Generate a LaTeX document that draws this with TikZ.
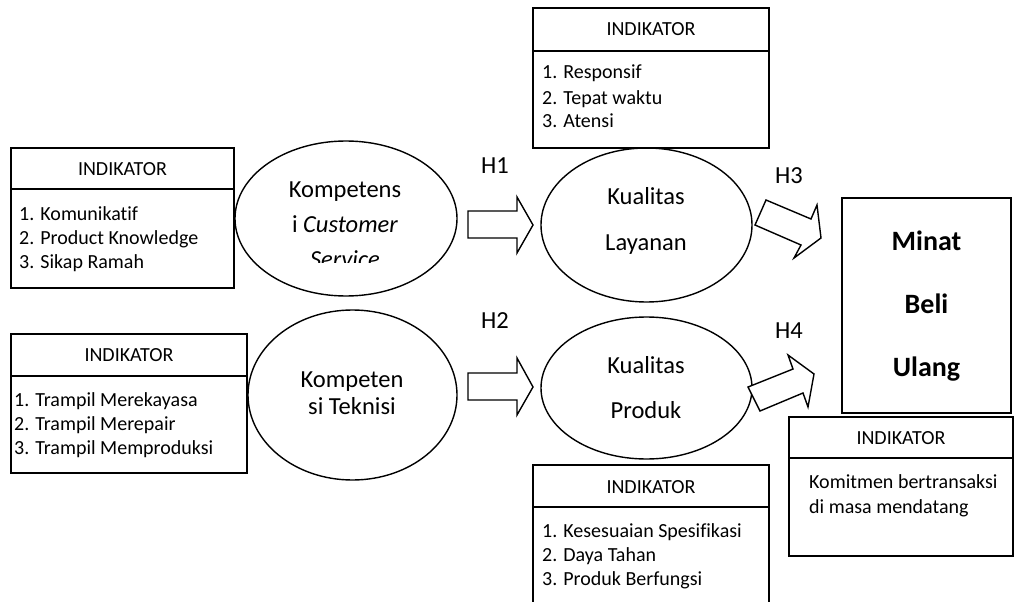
\documentclass[tikz,border=0pt]{standalone}
\usepackage{fontspec}
\setmainfont{Carlito}[Ligatures=NoCommon]
\usetikzlibrary{shapes.geometric}
\tikzset{
  box/.style={draw, line width=1.4pt, rectangle, inner sep=0pt, fill=white},
  oval/.style={draw, line width=1.4pt, ellipse, inner sep=0pt},
  blockarrow/.style={draw, line width=1.4pt, fill=white, line join=miter},
  sep/.style={line width=1.4pt},
  itxt/.style={font=\fontsize{20}{22}\selectfont, anchor=base, inner sep=0pt},
  ltxt/.style={font=\fontsize{20}{22}\selectfont, anchor=base west, inner sep=0pt},
  etxt/.style={font=\fontsize{24.5}{28}\selectfont, anchor=base, inner sep=0pt},
  btxt/.style={font=\fontsize{28}{32}\selectfont\bfseries, anchor=base, inner sep=0pt}
}
\begin{document}
\begin{tikzpicture}[x=1pt,y=-1pt]
\clip (0,0) rectangle (1015,602);
\fill[white] (0,0) rectangle (1015,602);

% ---- indicator box 1 (Kompetensi Customer Service)
\node[box, minimum width=223pt, minimum height=140pt] (ind1) at (122.5,218) {};
\draw[sep] (ind1.west |- 0,189) -- (ind1.east |- 0,189);
\node[itxt] (ind1h) at (122.5,175) {INDIKATOR};
\node[ltxt] (ind1a) at (19,220) {1. Komunikatif};
\node[ltxt] (ind1b) at (19,244) {2. Product Knowledge};
\node[ltxt] (ind1c) at (19,268) {3. Sikap Ramah};

% ---- indicator box 2 (Kompetensi Teknisi)
\node[box, minimum width=236pt, minimum height=139pt] (ind2) at (129,403.5) {};
\draw[sep] (ind2.west |- 0,376) -- (ind2.east |- 0,376);
\node[itxt] (ind2h) at (129,361.5) {INDIKATOR};
\node[ltxt] (ind2a) at (14,406) {1. Trampil Merekayasa};
\node[ltxt] (ind2b) at (14,430) {2. Trampil Merepair};
\node[ltxt] (ind2c) at (14,454) {3. Trampil Memproduksi};

% ---- indicator box 3 (Kualitas Layanan)
\node[box, minimum width=236pt, minimum height=140pt] (ind3) at (651,78) {};
\draw[sep] (ind3.west |- 0,51) -- (ind3.east |- 0,51);
\node[itxt] (ind3h) at (651,36) {INDIKATOR};
\node[ltxt] (ind3a) at (542,79) {1. Responsif};
\node[ltxt] (ind3b) at (542,104) {2. Tepat waktu};
\node[ltxt] (ind3c) at (542,128) {3. Atensi};

% ---- indicator box 4 (Kualitas Produk), open below the page edge
\node[box, minimum width=236pt, minimum height=170pt] (ind4) at (651,550) {};
\draw[sep] (ind4.west |- 0,507) -- (ind4.east |- 0,507);
\node[itxt] (ind4h) at (651,493) {INDIKATOR};
\node[ltxt] (ind4a) at (542,537) {1. Kesesuaian Spesifikasi};
\node[ltxt] (ind4b) at (542,561) {2. Daya Tahan};
\node[ltxt] (ind4c) at (542,585) {3. Produk Berfungsi};

% ---- ellipses
\node[oval, minimum width=222pt, minimum height=155pt] (kcs) at (346,218.5) {};
\node[etxt] (kcs1) at (345,197) {Kompetens};
\node[etxt] (kcs2) at (345,232) {i \textit{Customer}};
\begin{scope}
  \clip (236,140) rectangle (456,262);
  \node[etxt] (kcs3) at (345,267) {\textit{Service}};
\end{scope}

\node[oval, minimum width=209pt, minimum height=170pt] (kt) at (352.5,395) {};
\node[etxt] (kt1) at (352,387) {Kompeten};
\node[etxt] (kt2) at (352,414) {si Teknisi};

\node[oval, minimum width=211pt, minimum height=154pt] (kl) at (646.5,225) {};
\node[etxt] (kl1) at (646,204) {Kualitas};
\node[etxt] (kl2) at (646,250) {Layanan};

\node[oval, minimum width=211pt, minimum height=142pt] (kp) at (646.5,388) {};
\node[etxt] (kp1) at (646,373) {Kualitas};
\node[etxt] (kp2) at (646,418) {Produk};

% ---- Minat Beli Ulang
\node[box, minimum width=169pt, minimum height=215pt] (mbu) at (926.5,305.5) {};
\node[btxt] (mbu1) at (926.5,250) {Minat};
\node[btxt] (mbu2) at (926.5,313) {Beli};
\node[btxt] (mbu3) at (926.5,376) {Ulang};

% ---- indicator box 5 (Minat Beli Ulang)
\node[box, minimum width=224pt, minimum height=139pt] (ind5) at (901,486.5) {};
\draw[sep] (ind5.west |- 0,458) -- (ind5.east |- 0,458);
\node[itxt] (ind5h) at (901,444) {INDIKATOR};
\node[ltxt] (ind5a) at (809,488) {Komitmen bertransaksi};
\node[ltxt] (ind5b) at (809,513) {di masa mendatang};

% ---- block arrows
\draw[blockarrow] (468,211) -- (517,211) -- (517,197) -- (533,225) -- (517,253) -- (517,238) -- (468,238) -- cycle;
\draw[blockarrow] (468,373) -- (517,373) -- (517,358) -- (533,387) -- (517,415) -- (517,400) -- (468,400) -- cycle;
\draw[blockarrow] (766,200) -- (811,219) -- (817,205) -- (821,238) -- (794,258) -- (801,245) -- (755,225) -- cycle;
\draw[blockarrow] (748,387) -- (793,369) -- (788,355) -- (814,374) -- (808,407) -- (803,393) -- (760,411) -- cycle;

% ---- hypothesis labels
\node[etxt] (h1) at (495,173) {H1};
\node[etxt] (h2) at (495,328) {H2};
\node[etxt] (h3) at (789,183) {H3};
\node[etxt] (h4) at (789,338) {H4};
\end{tikzpicture}
\end{document}
